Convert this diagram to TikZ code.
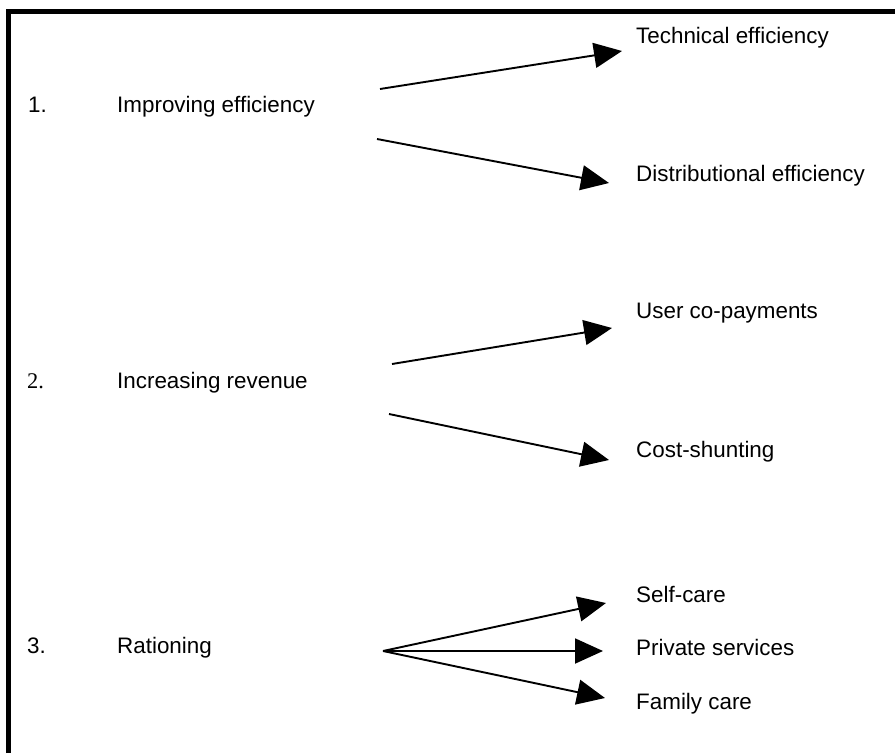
\documentclass[tikz,border=0pt]{standalone}
\usepackage{fontspec}
\setmainfont{Liberation Sans}
\newfontfamily\timesfont{Liberation Serif}
\usetikzlibrary{arrows.meta}

\begin{document}
\begin{tikzpicture}[x=1pt, y=-1pt,
  arr/.style={line width=1.9pt, -{Triangle[length=28pt, width=25pt]}},
  lbl/.style={anchor=base west, inner sep=0pt, font=\fontsize{22.4}{26}\selectfont}]
  \useasboundingbox (0,0) rectangle (895,753);
  % frame, left and top edges only
  \draw[line width=4.5pt] (8.3,753) -- (8.3,11.3) -- (895,11.3);
  % 1. improving efficiency
  \node[lbl] (n1) at (28,112) {1.};
  \node[lbl] (imp) at (117,112) {Improving efficiency};
  \node[lbl] (tech) at (636,43) {Technical efficiency};
  \node[lbl] (dist) at (636,181) {Distributional efficiency};
  \coordinate (imp-a) at (380,89);
  \coordinate (imp-b) at (377,139);
  \coordinate (tech-tip) at (622,51);
  \coordinate (dist-tip) at (609,183);
  \draw[arr] (imp-a) -- (tech-tip);
  \draw[arr] (imp-b) -- (dist-tip);
  % 2. increasing revenue
  \node[lbl] (n2) at (27,388) {\timesfont 2.};
  \node[lbl] (rev) at (117,388) {Increasing revenue};
  \node[lbl] (user) at (636,318) {User co-payments};
  \node[lbl] (cost) at (636,457) {Cost-shunting};
  \coordinate (rev-a) at (392,364);
  \coordinate (rev-b) at (389,414);
  \coordinate (user-tip) at (612,328);
  \coordinate (cost-tip) at (609,460);
  \draw[arr] (rev-a) -- (user-tip);
  \draw[arr] (rev-b) -- (cost-tip);
  % 3. rationing
  \node[lbl] (n3) at (27,653) {3.};
  \node[lbl] (rat) at (117,653) {Rationing};
  \node[lbl] (self) at (636,602) {Self-care};
  \node[lbl] (priv) at (636,655) {Private services};
  \node[lbl] (fam) at (636,709) {Family care};
  \coordinate (rat-o) at (383,651);
  \coordinate (self-tip) at (606,603);
  \coordinate (priv-tip) at (603,651);
  \coordinate (fam-tip) at (605,698);
  \draw[arr] (rat-o) -- (self-tip);
  \draw[arr] (rat-o) -- (priv-tip);
  \draw[arr] (rat-o) -- (fam-tip);
\end{tikzpicture}
\end{document}
